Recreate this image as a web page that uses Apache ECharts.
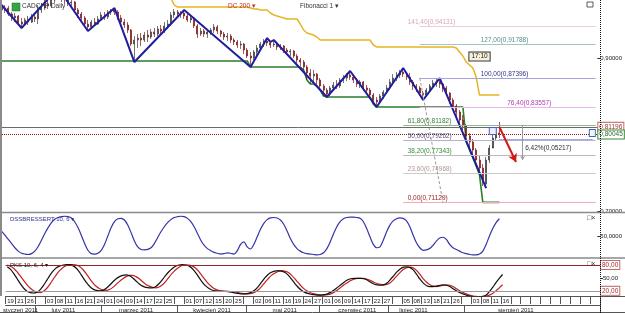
<!DOCTYPE html>
<html><head><meta charset="utf-8">
<script src="https://cdn.jsdelivr.net/npm/echarts@6/dist/echarts.min.js"></script>
<style>html,body{margin:0;padding:0;background:#fff}#c{width:625px;height:313px}</style>
</head><body><div id="c"></div>
<script>
// ---------- axis tick labels ----------
const cellLabels = ["19","21","26","","03","08","11","16","21","24","01","04","09","14","17","22","25","","01","07","12","15","20","25","","02","06","11","16","19","24","27","01","06","09","14","17","22","27","","05","08","13","18","21","26","","03","08","11","16","","","","","","","","",""];
const monthNames = ["styczeń 2011","luty 2011","marzec 2011","kwiecień 2011","maj 2011","czerwiec 2011","lipiec 2011","sierpień 2011"];
const monthLabelBars = [4,17,39,62,84,106,123,154];
const monthStartBars = [9,29,52,73,95,116,139];
const priceTicks = [0.7, 0.9];

// ---------- price bars (CADCHF daily) ----------
const opens = [0.9680,0.9627,0.9653,0.9575,0.9523,0.9549,0.9470,0.9444,0.9497,0.9470,
0.9536,0.9510,0.9627,0.9653,0.9706,0.9680,0.9758,0.9810,0.9836,0.9797,
0.9771,0.9719,0.9732,0.9627,0.9575,0.9523,0.9444,0.9405,0.9470,0.9444,
0.9510,0.9562,0.9536,0.9601,0.9627,0.9601,0.9523,0.9470,0.9431,0.9366,
0.9183,0.9235,0.9261,0.9235,0.9300,0.9274,0.9340,0.9313,0.9379,0.9353,
0.9418,0.9444,0.9562,0.9601,0.9575,0.9588,0.9549,0.9497,0.9523,0.9418,
0.9313,0.9353,0.9313,0.9340,0.9366,0.9405,0.9353,0.9313,0.9274,0.9287,
0.9235,0.9209,0.9170,0.9183,0.9104,0.9026,0.9000,0.9078,0.9130,0.9183,
0.9222,0.9196,0.9170,0.9183,0.9144,0.9157,0.9104,0.9078,0.9091,0.9026,
0.8974,0.8947,0.8882,0.8804,0.8764,0.8791,0.8712,0.8634,0.8581,0.8529,
0.8608,0.8647,0.8634,0.8712,0.8738,0.8778,0.8751,0.8712,0.8660,0.8686,
0.8608,0.8581,0.8516,0.8451,0.8425,0.8503,0.8555,0.8608,0.8686,0.8738,
0.8778,0.8817,0.8791,0.8751,0.8686,0.8634,0.8608,0.8542,0.8516,0.8581,
0.8634,0.8673,0.8686,0.8660,0.8608,0.8542,0.8451,0.8372,0.8294,0.8189,
0.8111,0.7980,0.7902,0.7797,0.7666,0.7562,0.7353,0.7666,0.7823,0.7954,
0.8019];
const closes = [0.9627,0.9653,0.9575,0.9523,0.9549,0.9470,0.9444,0.9497,0.9470,0.9536,
0.9510,0.9627,0.9653,0.9706,0.9680,0.9758,0.9810,0.9836,0.9797,0.9771,
0.9719,0.9732,0.9627,0.9575,0.9523,0.9444,0.9405,0.9470,0.9444,0.9510,
0.9562,0.9536,0.9601,0.9627,0.9601,0.9523,0.9470,0.9431,0.9366,0.9183,
0.9235,0.9261,0.9235,0.9300,0.9274,0.9340,0.9313,0.9379,0.9353,0.9418,
0.9444,0.9562,0.9601,0.9575,0.9588,0.9549,0.9497,0.9523,0.9418,0.9313,
0.9353,0.9313,0.9340,0.9366,0.9405,0.9353,0.9313,0.9274,0.9287,0.9235,
0.9209,0.9170,0.9183,0.9104,0.9026,0.9000,0.9078,0.9130,0.9183,0.9222,
0.9196,0.9170,0.9183,0.9144,0.9157,0.9104,0.9078,0.9091,0.9026,0.8974,
0.8947,0.8882,0.8804,0.8764,0.8791,0.8712,0.8634,0.8581,0.8529,0.8608,
0.8647,0.8634,0.8712,0.8738,0.8778,0.8751,0.8712,0.8660,0.8686,0.8608,
0.8581,0.8516,0.8451,0.8425,0.8503,0.8555,0.8608,0.8686,0.8738,0.8778,
0.8817,0.8791,0.8751,0.8686,0.8634,0.8608,0.8542,0.8516,0.8581,0.8634,
0.8673,0.8686,0.8660,0.8608,0.8542,0.8451,0.8372,0.8294,0.8189,0.8111,
0.7980,0.7902,0.7797,0.7666,0.7562,0.7379,0.7666,0.7823,0.7954,0.8019,
0.8006];
const lows = [0.9601,0.9588,0.9549,0.9483,0.9470,0.9431,0.9392,0.9418,0.9431,0.9457,
0.9470,0.9444,0.9588,0.9627,0.9640,0.9653,0.9719,0.9758,0.9732,0.9706,
0.9680,0.9680,0.9601,0.9523,0.9470,0.9405,0.9353,0.9379,0.9418,0.9431,
0.9483,0.9497,0.9510,0.9562,0.9562,0.9497,0.9431,0.9392,0.9327,0.9157,
0.8947,0.9130,0.9157,0.9209,0.9209,0.9248,0.9274,0.9287,0.9313,0.9327,
0.9379,0.9418,0.9523,0.9536,0.9523,0.9510,0.9470,0.9457,0.9392,0.9261,
0.9287,0.9274,0.9261,0.9300,0.9327,0.9313,0.9274,0.9235,0.9222,0.9196,
0.9170,0.9130,0.9117,0.9052,0.9000,0.8882,0.8974,0.9039,0.9104,0.9144,
0.9157,0.9130,0.9144,0.9104,0.9104,0.9065,0.9039,0.9026,0.9000,0.8934,
0.8895,0.8843,0.8712,0.8660,0.8686,0.8634,0.8581,0.8503,0.8490,0.8503,
0.8581,0.8595,0.8608,0.8673,0.8699,0.8712,0.8673,0.8621,0.8608,0.8568,
0.8529,0.8477,0.8398,0.8359,0.8398,0.8464,0.8529,0.8581,0.8660,0.8699,
0.8738,0.8751,0.8712,0.8647,0.8581,0.8555,0.8503,0.8451,0.8490,0.8555,
0.8608,0.8621,0.8608,0.8555,0.8503,0.8398,0.8320,0.8215,0.8124,0.8059,
0.7902,0.7797,0.7693,0.7588,0.7470,0.7327,0.7300,0.7627,0.7849,0.7928,
0.7954];
const highs = [0.9719,0.9693,0.9680,0.9601,0.9588,0.9562,0.9523,0.9523,0.9549,0.9575,
0.9588,0.9693,0.9719,0.9758,0.9784,0.9823,0.9863,0.9915,0.9876,0.9836,
0.9797,0.9758,0.9745,0.9653,0.9601,0.9549,0.9497,0.9497,0.9523,0.9549,
0.9601,0.9601,0.9627,0.9640,0.9653,0.9627,0.9562,0.9510,0.9470,0.9379,
0.9287,0.9313,0.9327,0.9340,0.9366,0.9379,0.9392,0.9418,0.9431,0.9470,
0.9497,0.9601,0.9640,0.9627,0.9614,0.9627,0.9575,0.9562,0.9536,0.9444,
0.9392,0.9379,0.9379,0.9392,0.9444,0.9431,0.9366,0.9340,0.9327,0.9313,
0.9261,0.9235,0.9222,0.9196,0.9130,0.9078,0.9104,0.9170,0.9209,0.9248,
0.9261,0.9222,0.9235,0.9196,0.9183,0.9170,0.9130,0.9117,0.9104,0.9052,
0.9000,0.8974,0.8908,0.8856,0.8843,0.8804,0.8738,0.8660,0.8608,0.8634,
0.8686,0.8712,0.8738,0.8778,0.8804,0.8830,0.8764,0.8738,0.8712,0.8699,
0.8647,0.8608,0.8542,0.8490,0.8529,0.8581,0.8647,0.8725,0.8791,0.8817,
0.8843,0.8869,0.8817,0.8804,0.8712,0.8660,0.8634,0.8568,0.8608,0.8660,
0.8712,0.8725,0.8738,0.8673,0.8634,0.8555,0.8477,0.8398,0.8320,0.8255,
0.8137,0.8019,0.7941,0.7823,0.7732,0.7614,0.7706,0.7863,0.8019,0.8085,
0.8163];

// ---------- overlays ----------
const zigzagBars   = [0,6,17,26,34,40,55,75,80,81,82,98,105,113,121,127,132,146];
const zigzagValues = [0.9693,0.9392,0.9915,0.9353,0.9653,0.8947,0.9627,0.8882,0.9261,0.9209,0.9235,0.8490,0.8830,0.8359,0.8869,0.8451,0.8738,0.7300];

const dcUpperFrom = 50;
const dcUpper = [0.9900,0.9784,0.9693,
0.9666,0.9666,0.9666,0.9666,0.9666,0.9666,0.9666,0.9666,0.9666,0.9666,0.9666,
0.9666,0.9666,0.9666,0.9666,0.9666,0.9666,0.9666,0.9666,0.9666,0.9666,0.9666,
0.9653,0.9640,0.9640,0.9627,0.9627,0.9627,0.9588,0.9562,0.9549,0.9536,0.9523,
0.9510,0.9510,0.9510,0.9510,0.9444,0.9366,0.9327,0.9313,0.9300,0.9274,
0.9235,0.9235,0.9235,0.9235,0.9235,0.9235,0.9235,0.9235,0.9235,0.9235,0.9235,0.9235,0.9235,0.9235,0.9235,0.9235,
0.9170,
0.9144,0.9144,0.9144,0.9144,0.9144,0.9144,0.9144,0.9144,0.9144,0.9144,0.9144,0.9144,
0.9144,0.9144,0.9144,0.9144,0.9144,0.9144,0.9144,0.9144,0.9144,0.9144,0.9144,0.9144,
0.9130,0.9078,0.9026,0.8947,0.8908,0.8869,0.8751,
0.8516,0.8516,0.8516,0.8516,0.8516,0.8516,0.8516];

const dcLower = [
0.8961,0.8961,0.8961,0.8961,0.8961,0.8961,0.8961,0.8961,0.8961,0.8961,
0.8961,0.8961,0.8961,0.8961,0.8961,0.8961,0.8961,0.8961,0.8961,0.8961,
0.8961,0.8961,0.8961,0.8961,0.8961,0.8961,0.8961,0.8961,0.8961,0.8961,
0.8961,0.8961,0.8961,0.8961,0.8961,0.8961,0.8961,0.8961,0.8961,0.8961,
0.8961,0.8961,0.8961,0.8961,0.8961,0.8961,0.8961,0.8961,0.8961,0.8961,
0.8961,0.8961,0.8961,0.8961,0.8961,0.8961,0.8961,0.8961,0.8961,0.8961,
0.8961,0.8961,0.8961,0.8961,0.8961,0.8961,0.8961,0.8961,0.8961,0.8961,
0.8961,0.8961,0.8961,0.8961,0.8961,
0.8882,0.8882,0.8882,0.8882,0.8882,0.8882,0.8882,0.8882,
0.8882,0.8882,0.8882,0.8882,0.8882,0.8882,0.8882,0.8882,
0.8843,0.8712,0.8660,0.8660,0.8634,0.8581,0.8503,
0.8490,0.8490,0.8490,0.8490,0.8490,0.8490,0.8490,0.8490,0.8490,0.8490,0.8490,0.8490,0.8490,0.8490,
0.8398,
0.8359,0.8359,0.8359,0.8359,0.8359,0.8359,0.8359,0.8359,0.8359,0.8359,
0.8359,0.8359,0.8359,0.8359,0.8359,0.8359,0.8359,0.8359,0.8359,0.8359,
0.8359,0.8359,0.8359,0.8359,0.8359,0.8359,0.8359,
0.7902,0.7797,0.7693,0.7588,0.7470,
0.7113,0.7113,0.7113,0.7113,0.7113,0.7113];

const fibLevels = ["161,80","141,40","127,00","100,00","76,40","61,80","50,00","38,20","23,60","0,00"];
const fibPrices = [0.97595,0.94131,0.91788,0.87396,0.83557,0.81182,0.79262,0.77343,0.74968,0.71129];
const lastHigh = 0.81196;
const lastBid = 0.80045;
const moveText = "6,42%(0,05217)";

// ---------- oscillators ----------
const dss = [61,52,42,32,22,14,9,7,6,8,
14,25,40,56,70,82,90,94,96,97,
96,93,84,70,52,32,16,8,7,9,
16,30,50,70,84,91,92,88,76,58,
38,24,18,17,18,22,32,46,60,72,
82,89,94,96,97,96,92,84,72,56,
40,28,20,15,11,9,7,8,10,9,
7,15,30,36,24,19,30,48,66,80,
89,93,94,93,88,78,62,44,30,20,
14,10,8,7,6,5,6,10,20,36,
55,72,84,91,94,95,95,94,92,84,
68,48,30,22,24,40,60,76,86,91,
93,92,86,72,52,34,22,16,17,20,
28,38,45,47,42,30,22,18,14,10,
8,6,5,5,7,14,30,50,68,82,
91];
const pksK = [76,70,60,48,36,26,19,16,15,17,
23,33,45,57,67,74,78,80,81,81,
78,72,62,50,39,30,24,21,20,21,
26,33,41,48,53,56,57,55,50,43,
36,31,28,27,27,30,37,46,56,65,
72,77,80,81,80,78,72,63,52,41,
32,26,22,20,19,19,19,18,17,15,
14,13,13,14,17,22,30,40,50,58,
63,66,67,66,63,57,48,38,29,22,
17,14,12,11,10,10,11,13,17,22,
28,34,40,45,48,49,49,49,48,45,
40,36,34,33,34,38,46,55,64,71,
75,76,74,68,58,47,38,32,30,30,
31,33,34,33,30,25,20,16,13,10,
8,7,6,6,7,10,18,28,39,49,
58];
const pksD = [80,77,72,64,54,44,34,26,20,17,
16,19,26,36,48,59,68,75,79,81,
81,80,76,69,59,48,38,30,25,22,
21,23,28,35,42,48,53,56,56,53,
48,41,35,31,28,27,29,34,42,52,
61,69,75,79,80,80,78,73,65,55,
45,36,29,24,21,20,19,19,18,17,
16,14,13,13,14,17,22,30,39,48,
56,61,65,67,66,63,57,49,40,31,
24,19,15,13,11,10,10,11,13,17,
22,28,34,39,44,47,49,49,49,47,
44,40,37,35,34,35,39,46,55,63,
70,74,75,73,67,58,48,40,34,31,
30,31,33,34,33,30,25,20,16,13,
10,8,7,6,6,7,10,14,20,27,
34];

// ---------- build ----------
const FONT = 'Liberation Sans';
const barCount = cellLabels.length * 3;
const barIds = Array.from({length: barCount}, (_, i) => String(i));
const lastBar = barCount - 1;
const fmtPrice = v => v.toFixed(5).replace('.', ',');

const candleData = opens.map((o, i) => [o, closes[i], lows[i], highs[i]]);
const zigzagData = zigzagBars.map((b, k) => [b, zigzagValues[k]]);
const dcUpperData = dcUpper.map((v, k) => [dcUpperFrom + k, v]);

const fibLineColors = ['#b08a50','#ecccd9','#a6c4c4','#a4a4dc','#f0b4ee','#8cbc8c','#b4b4cc','#bcbcbc','#cccccc','#f2aabb'];
const fibTextColors = ['#b08a50','#d8a4bb','#5a8f8f','#34348c','#b040b0','#3a7a3a','#555588','#3a8a3a','#b49494','#a02424'];
const fibStartBars  = [126,126,126,126,126,121,121,121,121,121];
const fibLabelBars  = [null,121,143,143,151,121,121,121,121,121];

const fibLines = fibPrices.map((p, k) => [
  {coord: [fibStartBars[k], p], lineStyle: {color: fibLineColors[k], width: 1, type: 'solid'}},
  {coord: [lastBar, p]}
]);
fibLines.push([
  {coord: [126, fibPrices[3]], lineStyle: {color: '#9a9a9a', width: 1, type: [3, 2]}},
  {coord: [133, fibPrices[9]]}
]);
const fibLabels = [];
fibPrices.forEach((p, k) => {
  if (fibLabelBars[k] === null) return;
  fibLabels.push({
    coord: [fibLabelBars[k], p], symbol: 'circle', symbolSize: 1, itemStyle: {color: 'rgba(0,0,0,0)'},
    label: {show: true, position: 'right', distance: 4, offset: [0, -4],
      formatter: fibLevels[k] + '(' + fmtPrice(p) + ')', color: fibTextColors[k], fontSize: 6.5, fontFamily: FONT}
  });
});

const boxLabel = (text, border, color) => ({
  show: true, position: 'end', distance: 1, formatter: text, color: color, fontSize: 6.5, fontFamily: FONT,
  backgroundColor: '#fff', borderColor: border, borderWidth: 1, padding: [1, 1, 0, 1]
});

const chart = echarts.init(document.getElementById('c'), null, {renderer: 'canvas', width: 625, height: 313});
const hiddenX = g => ({type: 'category', gridIndex: g, data: barIds, boundaryGap: true, show: false});

const option = {
  animation: false,
  backgroundColor: '#ffffff',
  textStyle: {fontFamily: FONT},
  grid: [
    {left: 0, right: 25, top: 0, height: 212},
    {left: 0, right: 25, top: 215, height: 42},
    {left: 0, right: 25, top: 259, height: 37}
  ],
  xAxis: [
    hiddenX(0), hiddenX(1),
    {type: 'category', gridIndex: 2, data: barIds, boundaryGap: true, position: 'bottom',
      axisLine: {show: true, lineStyle: {color: '#555', width: 1}},
      axisTick: {show: true, interval: (i) => i % 3 === 0, length: 8, lineStyle: {color: '#555'}},
      axisLabel: {show: true, interval: (i) => i % 3 === 0, align: 'left', margin: 2, fontSize: 6, color: '#222', fontFamily: FONT,
        formatter: (v, i) => cellLabels[Math.floor(i / 3)] || ''}},
    {type: 'category', gridIndex: 2, data: barIds, boundaryGap: true, position: 'bottom', offset: 9,
      axisLine: {show: true, lineStyle: {color: '#555', width: 1}},
      axisTick: {show: true, interval: (i) => monthStartBars.includes(i), length: 8, lineStyle: {color: '#555'}},
      axisLabel: {show: true, interval: (i) => monthLabelBars.includes(i), margin: 2, fontSize: 6, color: '#222', fontFamily: FONT,
        formatter: (v, i) => { const k = monthLabelBars.indexOf(i); return k >= 0 ? monthNames[k] : ''; }}}
  ],
  yAxis: [
    {type: 'value', gridIndex: 0, position: 'right', min: 0.6987, max: 0.9758, scale: true,
      axisLine: {show: false}, splitLine: {show: false},
      axisTick: {show: true, length: 3, customValues: priceTicks, lineStyle: {color: '#333'}},
      axisLabel: {show: true, customValues: priceTicks, margin: 3, fontSize: 6, color: '#222', fontFamily: FONT, formatter: v => fmtPrice(v)}},
    {type: 'value', gridIndex: 1, position: 'right', min: 0, max: 100,
      axisLine: {show: false}, splitLine: {show: false},
      axisTick: {show: true, length: 3, customValues: [50], lineStyle: {color: '#333'}},
      axisLabel: {show: true, customValues: [50], margin: 3, fontSize: 6, color: '#222', fontFamily: FONT, formatter: v => v.toFixed(4).replace('.', ',')}},
    {type: 'value', gridIndex: 2, position: 'right', min: 8, max: 94,
      axisLine: {show: false}, splitLine: {show: false},
      axisTick: {show: true, length: 3, customValues: [50], lineStyle: {color: '#333'}},
      axisLabel: {show: true, customValues: [50], margin: 3, fontSize: 6, color: '#222', fontFamily: FONT, formatter: v => v.toFixed(2).replace('.', ',')}}
  ],
  series: [
    {type: 'line', name: 'DC upper', xAxisIndex: 0, yAxisIndex: 0, data: dcUpperData, symbol: 'none', clip: true,
      lineStyle: {color: '#e8b425', width: 1.5}, z: 2},
    {type: 'line', name: 'DC lower', xAxisIndex: 0, yAxisIndex: 0, data: dcLower, symbol: 'none', clip: true,
      lineStyle: {color: '#2b7d2b', width: 1.6}, z: 2,
      markLine: {silent: true, symbol: ['none', 'none'], label: {show: false}, data: fibLines},
      markPoint: {silent: true, data: fibLabels}},
    {type: 'candlestick', name: 'CADCHF', xAxisIndex: 0, yAxisIndex: 0, data: candleData, barWidth: 1.5, clip: true,
      itemStyle: {color: '#3c3c3c', color0: '#7e1616', borderColor: '#3c3c3c', borderColor0: '#7e1616', borderWidth: 0.7}, z: 3,
      markLine: {silent: true, symbol: ['none', 'none'], data: [
        {yAxis: lastHigh, lineStyle: {color: '#6a6a6a', width: 1, type: 'solid'}, label: boxLabel(fmtPrice(lastHigh), '#c46a6a', '#a03030')},
        {yAxis: lastBid, lineStyle: {color: '#9a1010', width: 1, type: [1, 1]}, label: boxLabel(fmtPrice(lastBid), '#3a8a3a', '#2a6a2a')},
        [{coord: [150, 0.7941], lineStyle: {color: '#4a4ad0', width: 1, type: [1, 1]}, label: {show: false}}, {coord: [lastBar - 1, 0.7941]}],
        [{coord: [157, 0.8124], symbol: 'none', lineStyle: {color: '#9a9a9a', width: 1, type: 'solid'}, label: {show: false}}, {coord: [157, 0.7666], symbol: 'arrow', symbolSize: 4}],
        [{coord: [150, 0.8098], symbol: 'none', lineStyle: {color: '#d01818', width: 2, type: 'solid'}, label: {show: false}}, {coord: [155, 0.7640], symbol: 'arrow', symbolSize: [7, 8]}]
      ]},
      markPoint: {silent: true, data: [
        {coord: [157, 0.7824], symbol: 'circle', symbolSize: 1, itemStyle: {color: 'rgba(0,0,0,0)'},
          label: {show: true, position: 'right', distance: 2, formatter: moveText, color: '#333', fontSize: 6.5, fontFamily: FONT}},
        {coord: [144, 0.9019], symbol: 'circle', symbolSize: 1, itemStyle: {color: 'rgba(0,0,0,0)'},
          label: {show: true, position: 'inside', formatter: '17:10', color: '#222', fontSize: 6.5, fontFamily: FONT,
            backgroundColor: '#f6efdc', borderColor: '#333', borderWidth: 1, padding: [1, 2, 0, 2]}},
        {coord: [148, 0.8045], symbol: 'rect', symbolSize: [7, 7], itemStyle: {color: '#eef0ff', borderColor: '#4a5ac8', borderWidth: 1}, label: {show: false}},
        {coord: [178, 0.8019], symbol: 'rect', symbolSize: [6, 7], itemStyle: {color: '#e8ffe8', borderColor: '#4a5ac8', borderWidth: 1}, label: {show: false}}
      ]}},
    {type: 'line', name: 'ZigZag', xAxisIndex: 0, yAxisIndex: 0, data: zigzagData, symbol: 'none', clip: true,
      lineStyle: {color: '#1e1e9e', width: 2}, z: 4},
    {type: 'line', name: 'DSS Bressert', xAxisIndex: 1, yAxisIndex: 1, data: dss, symbol: 'none', smooth: 0.3,
      lineStyle: {color: '#3434a8', width: 1.2}},
    {type: 'line', name: 'PKS K', xAxisIndex: 2, yAxisIndex: 2, data: pksK, symbol: 'none', smooth: 0.3,
      lineStyle: {color: '#111', width: 1.2}, z: 3,
      markLine: {silent: true, symbol: ['none', 'none'], data: [
        {yAxis: 80, lineStyle: {color: '#902828', width: 1, type: 'solid'}, label: boxLabel('80,00', '#c46a6a', '#a03030')},
        {yAxis: 20, lineStyle: {color: '#9a9a9a', width: 1, type: 'solid'}, label: boxLabel('20,00', '#c46a6a', '#a03030')}
      ]}},
    {type: 'line', name: 'PKS D', xAxisIndex: 2, yAxisIndex: 2, data: pksD, symbol: 'none', smooth: 0.3,
      lineStyle: {color: '#c42020', width: 1.2}, z: 2}
  ],
  graphic: [
    {type: 'line', shape: {x1: 1, y1: 0, x2: 1, y2: 296}, style: {stroke: '#8a8a8a', lineWidth: 2}, z: 50},
    {type: 'line', shape: {x1: 0, y1: 212.5, x2: 625, y2: 212.5}, style: {stroke: '#8a8a8a', lineWidth: 1.5}, z: 50},
    {type: 'line', shape: {x1: 0, y1: 258, x2: 625, y2: 258}, style: {stroke: '#8a8a8a', lineWidth: 1.5}, z: 50},
    {type: 'line', shape: {x1: 600, y1: 296.5, x2: 625, y2: 296.5}, style: {stroke: '#555', lineWidth: 1}, z: 50},
    {type: 'line', shape: {x1: 0, y1: 312.5, x2: 625, y2: 312.5}, style: {stroke: '#555', lineWidth: 1}, z: 50},
    {type: 'line', shape: {x1: 600.5, y1: 0, x2: 600.5, y2: 313}, style: {stroke: '#111', lineWidth: 1, lineDash: [1, 1]}, z: 50},
    {type: 'rect', shape: {x: 12, y: 3, width: 8, height: 8}, style: {fill: '#35a545', stroke: '#1d6d25', lineWidth: 0.5}, z: 50},
    {type: 'text', x: 22, y: 3, style: {text: 'CADCHF Daily', fill: '#333', font: '6.5px ' + FONT}, z: 50},
    {type: 'text', x: 228, y: 3, style: {text: 'DC 200 ▾', fill: '#c03030', font: '6.5px ' + FONT}, z: 50},
    {type: 'text', x: 300, y: 3, style: {text: 'Fibonacci 1 ▾', fill: '#333', font: '6.5px ' + FONT}, z: 50},
    {type: 'rect', shape: {x: 587, y: 2, width: 6, height: 5}, style: {fill: '#fff', stroke: '#333', lineWidth: 0.8}, z: 50},
    {type: 'text', x: 10, y: 216, style: {text: 'DSSBRESSERT 10, 6 ▾', fill: '#30309a', font: '6px ' + FONT}, z: 50},
    {type: 'text', x: 587, y: 215, style: {text: '□×', fill: '#333', font: '7px ' + FONT}, z: 50},
    {type: 'text', x: 10, y: 262, style: {text: 'PKS 10, 6, 4 ▾', fill: '#222', font: '6px ' + FONT}, z: 50},
    {type: 'text', x: 587, y: 261, style: {text: '□×', fill: '#333', font: '7px ' + FONT}, z: 50}
  ]
};
chart.setOption(option);
</script>
</body></html>
